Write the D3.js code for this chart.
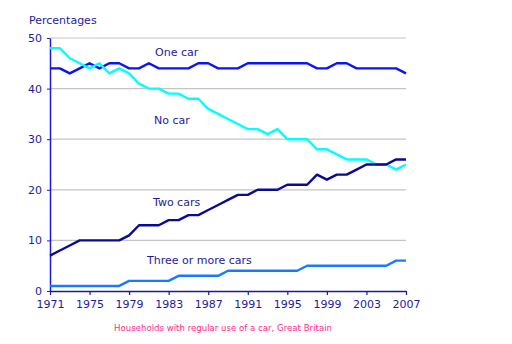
<!DOCTYPE html>
<html>
<head>
<meta charset="utf-8">
<script src="https://cdn.jsdelivr.net/npm/d3@7"></script>
<style>
  body { margin: 0; background: #fff; }
  svg { display: block; font-family: "DejaVu Sans", Verdana, sans-serif; }
</style>
</head>
<body>
<svg id="chart" width="512" height="344"></svg>
<script>
// data, one value per year 1971..2007
var years = d3.range(1971, 2008);
var oneCar = [44,44,43,44,45,44,45,45,44,44,45,44,44,44,44,45,45,44,44,44,
              45,45,45,45,45,45,45,44,44,45,45,44,44,44,44,44,43];
var noCar = [48,48,46,45,44,45,43,44,43,41,40,40,39,39,38,38,36,35,34,33,
             32,32,31,32,30,30,30,28,28,27,26,26,26,25,25,24,25];
var twoCars = [7,8,9,10,10,10,10,10,11,13,13,13,14,14,15,15,16,17,18,19,
               19,20,20,20,21,21,21,23,22,23,23,24,25,25,25,26,26];
var threeCars = [1,1,1,1,1,1,1,1,2,2,2,2,2,3,3,3,3,3,4,4,
                 4,4,4,4,4,4,5,5,5,5,5,5,5,5,5,6,6];
var yTicks = [0, 10, 20, 30, 40, 50];
var xTicks = [1971, 1975, 1979, 1983, 1987, 1991, 1995, 1999, 2003, 2007];

var series = [
  { name: "One car", values: oneCar, color: "#0a14f5", lx: 155, ly: 56 },
  { name: "No car", values: noCar, color: "#00ffff", lx: 154, ly: 124 },
  { name: "Two cars", values: twoCars, color: "#0a0a96", lx: 153, ly: 206 },
  { name: "Three or more cars", values: threeCars, color: "#1a7aff", lx: 147, ly: 264 }
];

var svg = d3.select("#chart");
var plotL = 50, plotR = 406, plotT = 38, plotB = 291;
var textColor = "#1c1c9c";
var fontFam = "'DejaVu Sans', Verdana, sans-serif";

var x = d3.scaleLinear().domain([1971, 2007]).range([plotL, plotR]);
var y = d3.scaleLinear().domain([0, 50]).range([plotB, plotT]);

// gridlines
svg.append("g")
  .selectAll("line")
  .data(yTicks.slice(1))
  .enter().append("line")
  .attr("x1", plotL).attr("x2", plotR)
  .attr("y1", function(d) { return y(d); })
  .attr("y2", function(d) { return y(d); })
  .attr("stroke", "#c4c4c4")
  .attr("stroke-width", 1.2);

// y axis
var yAxis = svg.append("g")
  .attr("transform", "translate(" + plotL + ",0)")
  .call(d3.axisLeft(y).tickValues(yTicks).tickSize(3).tickSizeOuter(0).tickPadding(5));
yAxis.attr("font-family", fontFam).attr("font-size", 11);
yAxis.select(".domain").attr("stroke", "#1a1ad8").attr("stroke-width", 1.5);
yAxis.selectAll(".tick line").attr("stroke", "#1a1ad8");
yAxis.selectAll("text").attr("fill", textColor);

// x axis
var xAxis = svg.append("g")
  .attr("transform", "translate(0," + plotB + ")")
  .call(d3.axisBottom(x).tickValues(xTicks).tickFormat(d3.format("d")).tickSize(4).tickSizeOuter(0).tickPadding(5));
xAxis.attr("font-family", fontFam).attr("font-size", 11);
xAxis.select(".domain").attr("stroke", "#1a1a9c").attr("stroke-width", 1.5);
xAxis.selectAll(".tick line").attr("stroke", "#1a1a9c").attr("stroke-width", 1.2);
xAxis.selectAll("text").attr("fill", textColor);

// lines
var line = d3.line()
  .x(function(d, i) { return x(years[i]); })
  .y(function(d) { return y(d); });

svg.selectAll(".series")
  .data(series)
  .enter().append("path")
  .attr("class", "series")
  .attr("d", function(d) { return line(d.values); })
  .attr("fill", "none")
  .attr("stroke", function(d) { return d.color; })
  .attr("stroke-width", 2.4)
  .attr("stroke-linejoin", "round");

// series labels
svg.selectAll(".lbl")
  .data(series)
  .enter().append("text")
  .attr("class", "lbl")
  .attr("x", function(d) { return d.lx; })
  .attr("y", function(d) { return d.ly; })
  .attr("fill", textColor)
  .style("font-size", "11px")
  .text(function(d) { return d.name; });

svg.append("text")
  .attr("x", 29).attr("y", 24)
  .attr("fill", textColor)
  .style("font-size", "11px")
  .text("Percentages");

svg.append("text")
  .attr("x", 223).attr("y", 331)
  .attr("text-anchor", "middle")
  .attr("fill", "#ff2d8c")
  .style("font-size", "8.6px")
  .text("Households with regular use of a car, Great Britain");
</script>
</body>
</html>
